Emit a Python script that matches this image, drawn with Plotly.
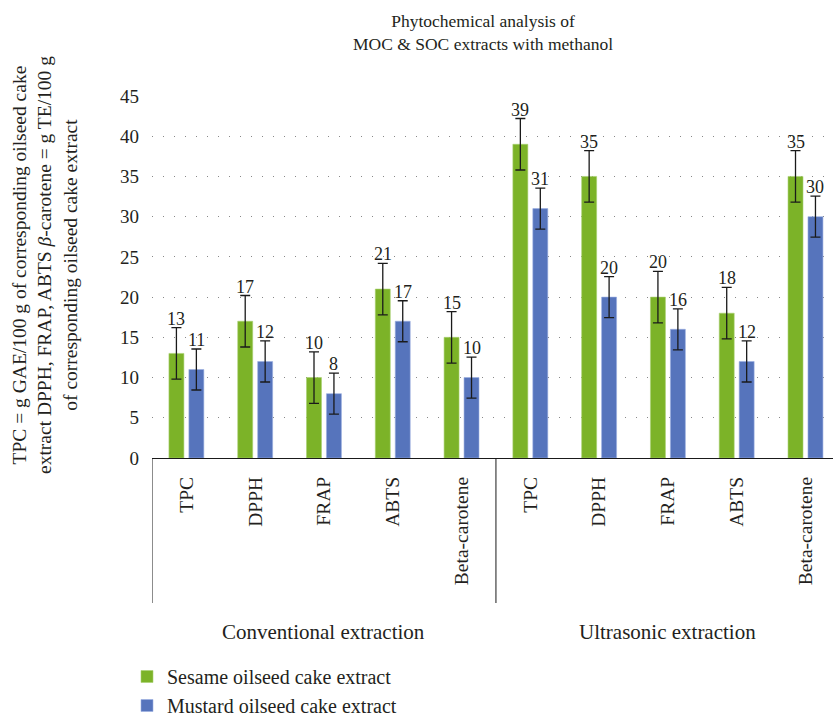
import plotly.graph_objects as go

categories = ["TPC", "DPPH", "FRAP", "ABTS", "Beta-carotene",
              "TPC", "DPPH", "FRAP", "ABTS", "Beta-carotene"]
groups = ["Conventional extraction", "Ultrasonic extraction"]
sesame = [13, 17, 10, 21, 15, 39, 35, 20, 18, 35]
mustard = [11, 12, 8, 17, 10, 31, 20, 16, 12, 30]
sesame_err = [3.2] * 10
mustard_err = [2.55] * 10
yticks = [0, 5, 10, 15, 20, 25, 30, 35, 40, 45]

GREEN = "#7cb328"
BLUE = "#5674bc"
FONT = "Liberation Serif"
TXT = "#231f20"

W, H = 833, 727
ML, MT, MB = 152, 96, 269
xr = [-0.5, 9.4]
pxu = (W - ML) / (xr[1] - xr[0])
bargap, bargroupgap = 0.42, 0.25
shift = (1 - bargap) / 4 * pxu
PH = H - MT - MB

xs = list(range(len(categories)))

fig = go.Figure()
fig.add_bar(x=xs, y=sesame, name="Sesame oilseed cake extract",
            marker=dict(color=GREEN, line=dict(color="#a8d070", width=0.6)),
            error_y=dict(type="data", array=sesame_err, color="#1a1a1a",
                         thickness=1.3, width=5))
fig.add_bar(x=xs, y=mustard, name="Mustard oilseed cake extract",
            marker=dict(color=BLUE, line=dict(color="#9aaee0", width=0.6)),
            error_y=dict(type="data", array=mustard_err, color="#1a1a1a",
                         thickness=1.3, width=5))

for i in xs:
    fig.add_annotation(x=i, y=sesame[i] + sesame_err[i], text=str(sesame[i]),
                       xshift=-shift, yshift=-3, yanchor="bottom", showarrow=False,
                       font=dict(family=FONT, size=18, color=TXT))
    fig.add_annotation(x=i, y=mustard[i] + mustard_err[i], text=str(mustard[i]),
                       xshift=shift, yshift=-3, yanchor="bottom", showarrow=False,
                       font=dict(family=FONT, size=18, color=TXT))

# group dividers and labels
for b in [-0.5, 4.5]:
    fig.add_shape(type="line", xref="x", yref="paper", x0=b, x1=b, y0=0,
                  y1=-(603 - (H - MB)) / PH,
                  line=dict(color="#1a1a1a", width=1))
for gi, g in enumerate(groups):
    fig.add_annotation(x=gi * 5 + 2, xref="x", yref="paper",
                       y=-(632 - (H - MB)) / PH, text=g,
                       showarrow=False, yanchor="middle",
                       font=dict(family=FONT, size=21, color=TXT))

# title
fig.add_annotation(xref="paper", yref="paper", x=(483 - ML) / (W - ML),
                   y=1 + (96 - 33) / PH, yanchor="middle",
                   text="Phytochemical analysis of<br>MOC &amp; SOC extracts with methanol",
                   showarrow=False, font=dict(family=FONT, size=17.5, color=TXT))

# y-axis title
fig.add_annotation(xref="paper", yref="paper", x=(45 - ML) / (W - ML),
                   y=(H - MB - 265) / PH, xanchor="center", yanchor="middle",
                   textangle=-90, showarrow=False,
                   text=("TPC = g GAE/100 g of corresponding oilseed cake<br>"
                         "extract DPPH, FRAP, ABTS <i>β</i>-carotene = g TE/100 g<br>"
                         "of corresponding oilseed cake extract"),
                   font=dict(family=FONT, size=19.5, color=TXT))

fig.update_layout(
    width=W, height=H,
    margin=dict(l=ML, r=0, t=MT, b=MB, pad=0, autoexpand=False),
    plot_bgcolor="white", paper_bgcolor="white",
    barmode="group", bargap=bargap, bargroupgap=bargroupgap,
    font=dict(family=FONT, size=19, color=TXT),
    legend=dict(xref="container", yref="container", x=127 / W, y=1 - 657 / H,
                xanchor="left", yanchor="top", font=dict(family=FONT, size=20, color=TXT),
                tracegroupgap=0, itemwidth=30),
    showlegend=True,
)
fig.update_xaxes(range=xr, tickvals=xs, ticktext=categories, tickangle=-90,
                 showline=True, linecolor="#1a1a1a", linewidth=1.2,
                 showgrid=False, zeroline=False, ticks="", ticklabelstandoff=10,
                 tickfont=dict(family=FONT, size=19.5, color=TXT))
fig.update_yaxes(range=[0, 45], tickvals=yticks, showline=False,
                 showgrid=True, gridcolor="#888888", gridwidth=1, griddash="1px,10px",
                 zeroline=False, ticks="", ticklabelstandoff=12,
                 tickfont=dict(family=FONT, size=19, color=TXT))

fig.write_html("out.html")
